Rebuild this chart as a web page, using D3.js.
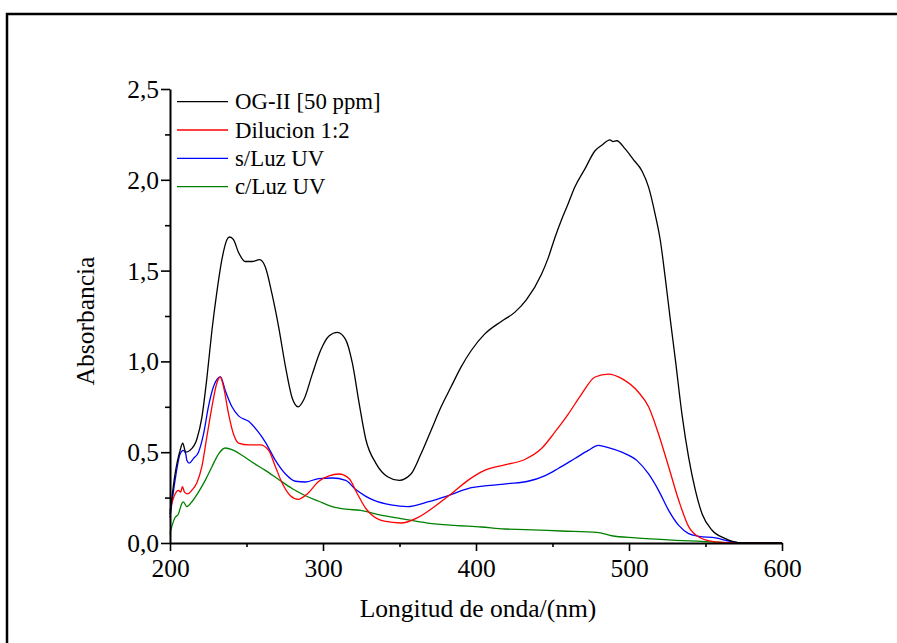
<!DOCTYPE html>
<html lang="es">
<head>
<meta charset="UTF-8" />
<title>Absorbancia</title>
<script src="https://cdn.jsdelivr.net/npm/d3@7"></script>
<style>
  body { margin: 0; background: #fff; }
  svg { display: block; }
  svg text { font-family: "Liberation Serif", "Times New Roman", serif; }
</style>
</head>
<body>
<script>
// espectros (nm, absorbancia)
const lamOG = [200, 203.3, 206.6, 208.3, 210.3, 213, 217.5, 220.8, 224, 227.4, 230.6, 233.9, 237.2, 238.9, 241.5, 244.8, 249.2, 253.6, 258.6, 262.3, 266.7, 271, 275.5, 279.8, 283.8, 287.5, 293, 298.4, 303.9, 309.4, 314.8, 319.2, 323.6, 328, 334.5, 342.2, 349.8, 357.5, 364, 370.6, 377.2, 383.7, 390.3, 396.9, 405.6, 416.5, 425.3, 433, 442.8, 447.2, 451.5, 455.9, 460.3, 464.6, 471.2, 477.8, 482.2, 487.6, 489.5, 492, 497.5, 503, 508.4, 512.8, 517.1, 520.4, 523.7, 527, 530.3, 534.6, 539, 543.4, 547.8, 554.3, 563, 574, 600];
const absOG = [0.16, 0.38, 0.51, 0.55, 0.50, 0.51, 0.57, 0.69, 0.90, 1.17, 1.38, 1.56, 1.67, 1.685, 1.67, 1.60, 1.55, 1.55, 1.56, 1.52, 1.37, 1.19, 0.97, 0.80, 0.75, 0.79, 0.93, 1.06, 1.14, 1.16, 1.12, 0.99, 0.77, 0.57, 0.44, 0.365, 0.345, 0.38, 0.49, 0.62, 0.75, 0.86, 0.97, 1.06, 1.15, 1.22, 1.27, 1.34, 1.48, 1.57, 1.68, 1.78, 1.87, 1.96, 2.06, 2.16, 2.19, 2.22, 2.21, 2.215, 2.17, 2.11, 2.05, 1.96, 1.81, 1.67, 1.46, 1.23, 1.01, 0.71, 0.47, 0.29, 0.16, 0.07, 0.024, 0, 0];

const lamDil = [200, 203.3, 205.5, 207, 208.1, 209.5, 211.6, 214.2, 217.5, 220.8, 224, 227.4, 230.6, 232.8, 235, 238.3, 241.5, 244.8, 251.4, 259, 264.5, 268.9, 273.3, 278.7, 283.8, 289.7, 297.3, 303.9, 310.4, 317, 322.5, 328, 331.2, 340, 350.9, 361.9, 372.8, 383.7, 394.7, 405.6, 418.7, 431.9, 442.8, 451.5, 460.3, 469, 477.8, 486.5, 495.3, 506.2, 512.8, 519.3, 525.9, 532.5, 539, 545.6, 556.5, 570, 600];
const absDil = [0.18, 0.27, 0.29, 0.28, 0.31, 0.28, 0.27, 0.29, 0.33, 0.42, 0.58, 0.75, 0.88, 0.914, 0.86, 0.71, 0.60, 0.55, 0.54, 0.54, 0.51, 0.42, 0.33, 0.26, 0.24, 0.27, 0.34, 0.37, 0.38, 0.355, 0.27, 0.19, 0.16, 0.12, 0.11, 0.14, 0.20, 0.27, 0.345, 0.40, 0.43, 0.46, 0.52, 0.61, 0.71, 0.82, 0.914, 0.93, 0.905, 0.83, 0.75, 0.60, 0.42, 0.235, 0.09, 0.033, 0.006, 0, 0];

const lamSin = [200, 203.3, 206.6, 208.7, 210.3, 211, 212.5, 215.3, 218.6, 221.9, 225.1, 228.4, 231.7, 233, 236.1, 240.5, 244.8, 251.4, 256.9, 262.3, 268.9, 275.5, 282, 288.6, 297.3, 306.1, 314.8, 321.4, 328, 333.4, 344.4, 355.3, 368.4, 381.5, 394.7, 405.6, 420.9, 434, 444.9, 453.7, 464.6, 473.4, 480, 486.5, 495.3, 505.1, 512.8, 519.3, 525.9, 532.5, 539, 545.6, 556.5, 565.3, 574, 600];
const absSin = [0.14, 0.345, 0.49, 0.51, 0.49, 0.455, 0.44, 0.465, 0.50, 0.60, 0.75, 0.86, 0.91, 0.915, 0.84, 0.75, 0.70, 0.67, 0.62, 0.556, 0.455, 0.38, 0.34, 0.336, 0.355, 0.358, 0.345, 0.294, 0.257, 0.235, 0.21, 0.20, 0.226, 0.26, 0.30, 0.314, 0.327, 0.34, 0.37, 0.41, 0.465, 0.51, 0.538, 0.525, 0.50, 0.455, 0.38, 0.29, 0.18, 0.097, 0.052, 0.037, 0.028, 0.011, 0, 0];

const lamCon = [200, 201.5, 203.3, 205.5, 207.7, 208.7, 211, 214.2, 218.6, 223, 227.4, 231.7, 236.1, 240.5, 247, 253.5, 262.3, 271, 279.8, 288.6, 297.3, 306.1, 314.8, 324.7, 337.8, 350.9, 368.4, 385.9, 403.4, 418.7, 431.9, 455.9, 478.9, 488.7, 504, 530.3, 550, 574, 600];
const absCon = [0.05, 0.10, 0.14, 0.16, 0.217, 0.226, 0.20, 0.226, 0.28, 0.345, 0.42, 0.49, 0.523, 0.514, 0.483, 0.446, 0.40, 0.35, 0.30, 0.26, 0.23, 0.20, 0.186, 0.18, 0.153, 0.134, 0.11, 0.097, 0.088, 0.077, 0.074, 0.066, 0.059, 0.04, 0.028, 0.015, 0.008, 0, 0];

const nombres = ["OG-II [50 ppm]", "Dilucion 1:2", "s/Luz UV", "c/Luz UV"];
const colores = ["#000000", "#ff0000", "#0000ff", "#008000"];

const xTicks = [200, 300, 400, 500, 600];
const xMinor = [250, 350, 450, 550];
const yTicks = [0, 0.5, 1.0, 1.5, 2.0, 2.5];
const yMinor = [0.25, 0.75, 1.25, 1.75, 2.25];

const w = 897, h = 643;

const svg = d3.select("body").append("svg")
    .attr("width", w)
    .attr("height", h);

// marco exterior
svg.append("rect")
    .attr("x", 7).attr("y", 14)
    .attr("width", 1000).attr("height", 1000)
    .attr("fill", "none")
    .attr("stroke", "#000")
    .attr("stroke-width", 2.5);

const x = d3.scaleLinear().domain([200, 600]).range([170, 782]);
const y = d3.scaleLinear().domain([0, 2.5]).range([543, 89]);

const coma = d => d3.format(".1f")(d).replace(".", ",");

// curvas
const series = [
    lamOG.map((l, i) => [l, absOG[i]]),
    lamDil.map((l, i) => [l, absDil[i]]),
    lamSin.map((l, i) => [l, absSin[i]]),
    lamCon.map((l, i) => [l, absCon[i]])
];

const line = d3.line()
    .x(d => x(d[0]))
    .y(d => y(d[1]))
    .curve(d3.curveMonotoneX);

// la verde debajo, la negra arriba
[3, 2, 1, 0].forEach(i => {
    svg.append("path")
        .datum(series[i])
        .attr("fill", "none")
        .attr("stroke", colores[i])
        .attr("stroke-width", 1.3)
        .attr("d", line);
});

// ejes
const gx = svg.append("g")
    .attr("transform", "translate(0,543)")
    .call(d3.axisBottom(x).tickValues(xTicks).tickSize(8).tickSizeOuter(0).tickFormat(d3.format("d")));
svg.append("g")
    .attr("transform", "translate(0,543)")
    .call(d3.axisBottom(x).tickValues(xMinor).tickSize(4).tickSizeOuter(0).tickFormat(""))
    .select(".domain").remove();

const gy = svg.append("g")
    .attr("transform", "translate(170,0)")
    .call(d3.axisLeft(y).tickValues(yTicks).tickSize(9).tickSizeOuter(0).tickFormat(coma));
svg.append("g")
    .attr("transform", "translate(170,0)")
    .call(d3.axisLeft(y).tickValues(yMinor).tickSize(5).tickSizeOuter(0).tickFormat(""))
    .select(".domain").remove();

svg.selectAll(".domain").attr("stroke-width", 2);
svg.selectAll(".tick line").attr("stroke-width", 1.6);

gx.selectAll("text")
    .attr("font-family", null)
    .attr("font-size", 25.5)
    .attr("y", 34)
    .attr("dy", 0)
    .attr("fill", "#000");
gy.selectAll("text")
    .attr("font-size", 25.5)
    .attr("x", -11)
    .attr("dy", "0.33em")
    .attr("fill", "#000");
svg.selectAll("g").attr("font-family", null).attr("font-size", null);

// titulos de ejes
svg.append("text")
    .attr("x", 478).attr("y", 617)
    .attr("text-anchor", "middle")
    .attr("font-size", 25.5)
    .text("Longitud de onda/(nm)");

svg.append("text")
    .attr("transform", "translate(94,321) rotate(-90)")
    .attr("text-anchor", "middle")
    .attr("font-size", 25.5)
    .text("Absorbancia");

// leyenda
const leg = svg.append("g");
nombres.forEach((n, i) => {
    const yy = 101.7 + i * 28.3;
    leg.append("line")
        .attr("x1", 177).attr("x2", 228)
        .attr("y1", yy).attr("y2", yy)
        .attr("stroke", colores[i])
        .attr("stroke-width", 1.3);
    leg.append("text")
        .attr("x", 235).attr("y", yy + 7.5)
        .attr("font-size", 22.8)
        .text(n);
});
</script>
</body>
</html>
